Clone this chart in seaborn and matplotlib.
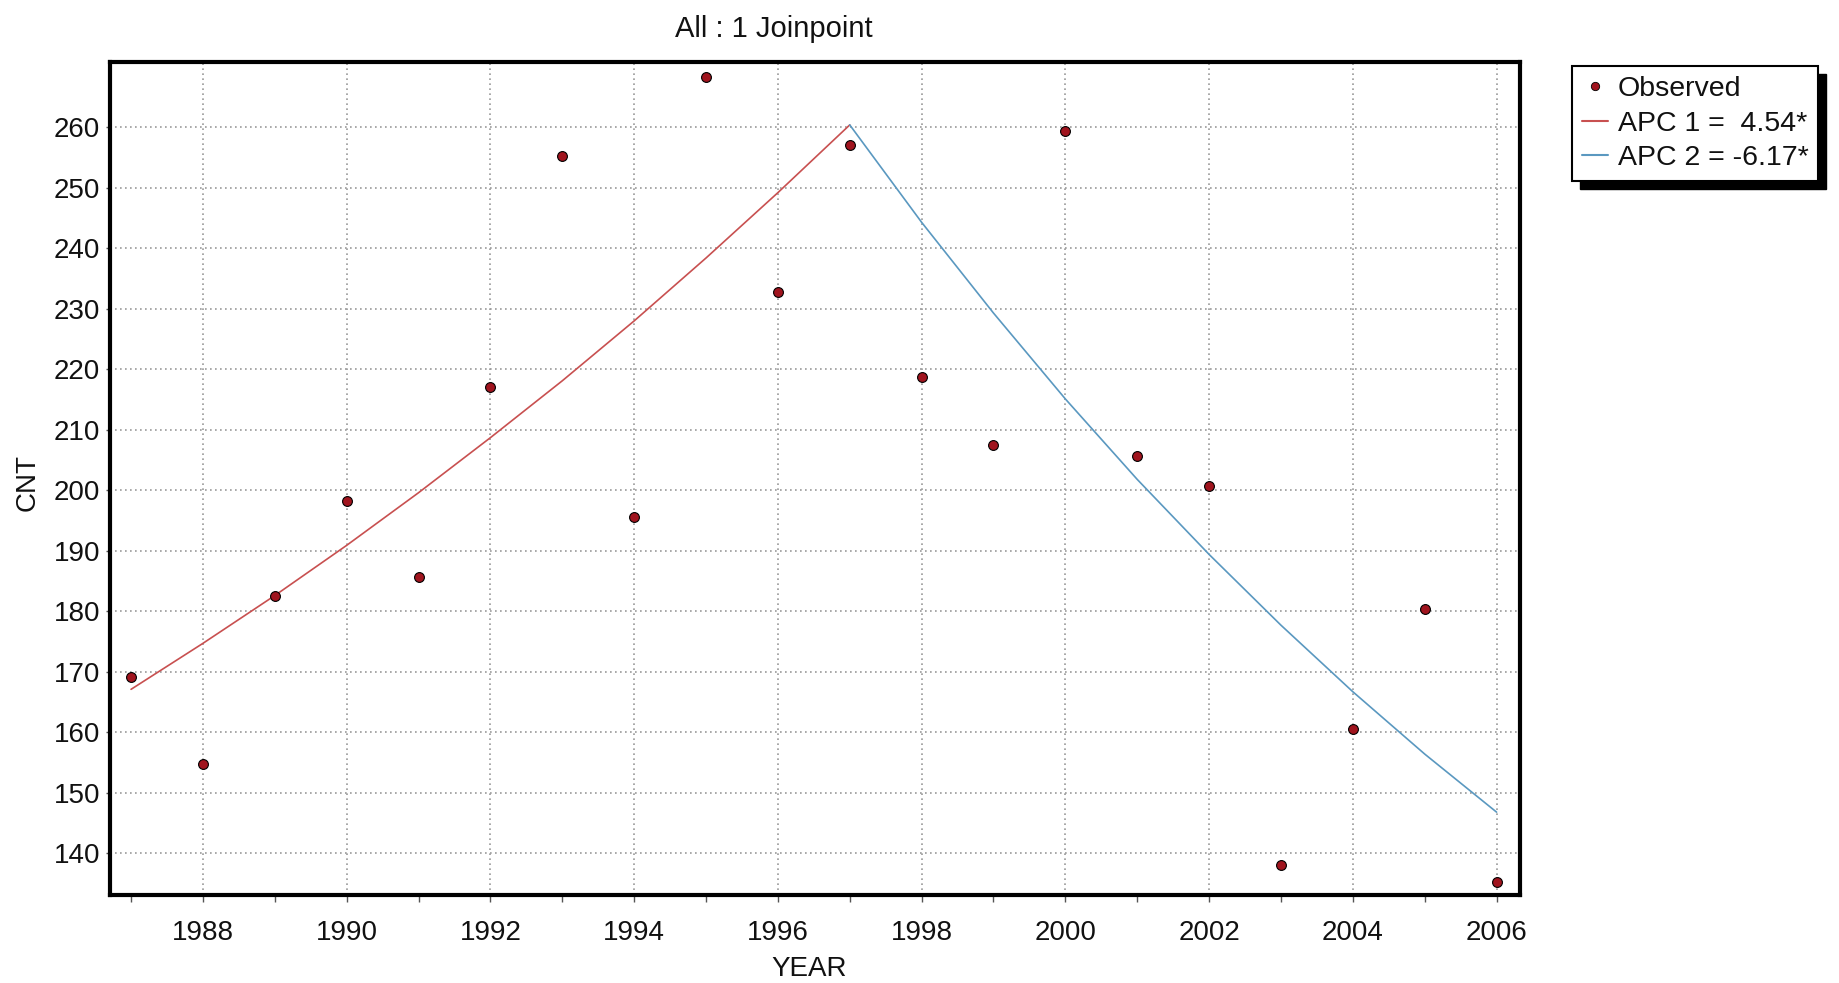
import matplotlib
matplotlib.use('Agg')
import matplotlib.pyplot as plt
import seaborn as sns
import pandas as pd
from matplotlib.patches import Rectangle
from matplotlib.lines import Line2D
from matplotlib.ticker import FixedLocator

# ---- data ----
years = [1987, 1988, 1989, 1990, 1991, 1992, 1993, 1994, 1995, 1996,
         1997, 1998, 1999, 2000, 2001, 2002, 2003, 2004, 2005, 2006]
observed = [169.1, 154.7, 182.6, 198.3, 185.7, 217.0, 255.3, 195.6, 268.3, 232.7,
            257.1, 218.7, 207.5, 259.4, 205.7, 200.7, 138.0, 160.5, 180.3, 135.3]
seg1_years = [1987, 1988, 1989, 1990, 1991, 1992, 1993, 1994, 1995, 1996, 1997]
seg1_fit = [167.1, 174.7, 182.6, 190.9, 199.6, 208.7, 218.1, 228.0, 238.4, 249.2, 260.4]
seg2_years = [1997, 1998, 1999, 2000, 2001, 2002, 2003, 2004, 2005, 2006]
seg2_fit = [260.4, 244.3, 229.3, 215.1, 201.8, 189.4, 177.7, 166.7, 156.4, 146.8]
legend_labels = ['Observed', 'APC 1 =  4.54*', 'APC 2 = -6.17*']
title = 'All : 1 Joinpoint'
xlabel = 'YEAR'
ylabel = 'CNT'

dot_color = '#a0141e'
red_color = '#c85050'
blue_color = '#5a98c0'

sns.set_theme(style='white')
plt.rcParams['font.family'] = ['Liberation Sans', 'DejaVu Sans']
FS = 20

W, H = 1839, 983
fig = plt.figure(figsize=(W / 100, H / 100), dpi=100)
ax = fig.add_axes([110 / W, 1 - 895 / H, (1520 - 110) / W, (895 - 62) / H])

obs_df = pd.DataFrame({'year': years, 'cnt': observed})
s1 = pd.DataFrame({'year': seg1_years, 'fit': seg1_fit})
s2 = pd.DataFrame({'year': seg2_years, 'fit': seg2_fit})

sns.lineplot(data=s1, x='year', y='fit', ax=ax, color=red_color, linewidth=1.2, zorder=3)
sns.lineplot(data=s2, x='year', y='fit', ax=ax, color=blue_color, linewidth=1.2, zorder=3)
sns.scatterplot(data=obs_df, x='year', y='cnt', ax=ax, color=dot_color, s=50,
                edgecolor='black', linewidth=0.8, zorder=4)

ax.set_xlim(1986.707, 2006.326)
ax.set_ylim(133.1, 270.8)
ax.xaxis.set_major_locator(FixedLocator(list(range(1988, 2007, 2))))
ax.xaxis.set_minor_locator(FixedLocator(list(range(1987, 2007, 2))))
ax.set_yticks(list(range(140, 261, 10)))

ax.grid(True, which='major', color='#9a9a9a', linestyle=(0, (1, 2)), linewidth=1.2)
for sp in ax.spines.values():
    sp.set_color('black')
    sp.set_linewidth(3)

ax.tick_params(axis='x', which='both', direction='out', length=5, width=1,
               color='#555555', pad=13, labelsize=FS, bottom=True)
ax.tick_params(axis='y', which='major', direction='out', length=3, width=1,
               color='#555555', pad=4, labelsize=FS, left=True)
for lbl in ax.get_xticklabels() + ax.get_yticklabels():
    lbl.set_color('#111111')

ax.set_xlabel('')
ax.set_ylabel('')
fig.text(809 / W, 1 - 969 / H, xlabel, ha='center', va='center', fontsize=FS, color='#111111')
fig.text(28 / W, 1 - 483 / H, ylabel, ha='center', va='center', fontsize=FS,
         rotation=90, color='#111111')
fig.text(774 / W, 1 - 29 / H, title, ha='center', va='center', fontsize=FS + 1, color='#111111')

handles = [
    Line2D([], [], marker='o', linestyle='none', markersize=6, markerfacecolor=dot_color,
           markeredgecolor='black', markeredgewidth=0.6),
    Line2D([], [], color=red_color, linewidth=1.5),
    Line2D([], [], color=blue_color, linewidth=1.5),
]
leg = fig.legend(handles, legend_labels, loc='upper left',
                 bbox_to_anchor=(1572 / W, 1 - 66 / H), bbox_transform=fig.transFigure,
                 frameon=True, fancybox=False, edgecolor='black', framealpha=1,
                 fontsize=FS + 0.5, borderpad=0.35, handlelength=0.9, handletextpad=0.35,
                 labelspacing=0.3, borderaxespad=0)
leg.get_frame().set_linewidth(1.5)
leg.set_zorder(10)
for t in leg.get_texts():
    t.set_color('#111111')

fig.canvas.draw()
bb = leg.get_window_extent()
off = 8
shadow = Rectangle((bb.x0 + off, bb.y0 - off), bb.width, bb.height,
                   transform=None, facecolor='black', edgecolor='black', zorder=9)
fig.add_artist(shadow)

fig.savefig('out.png', dpi=100)
